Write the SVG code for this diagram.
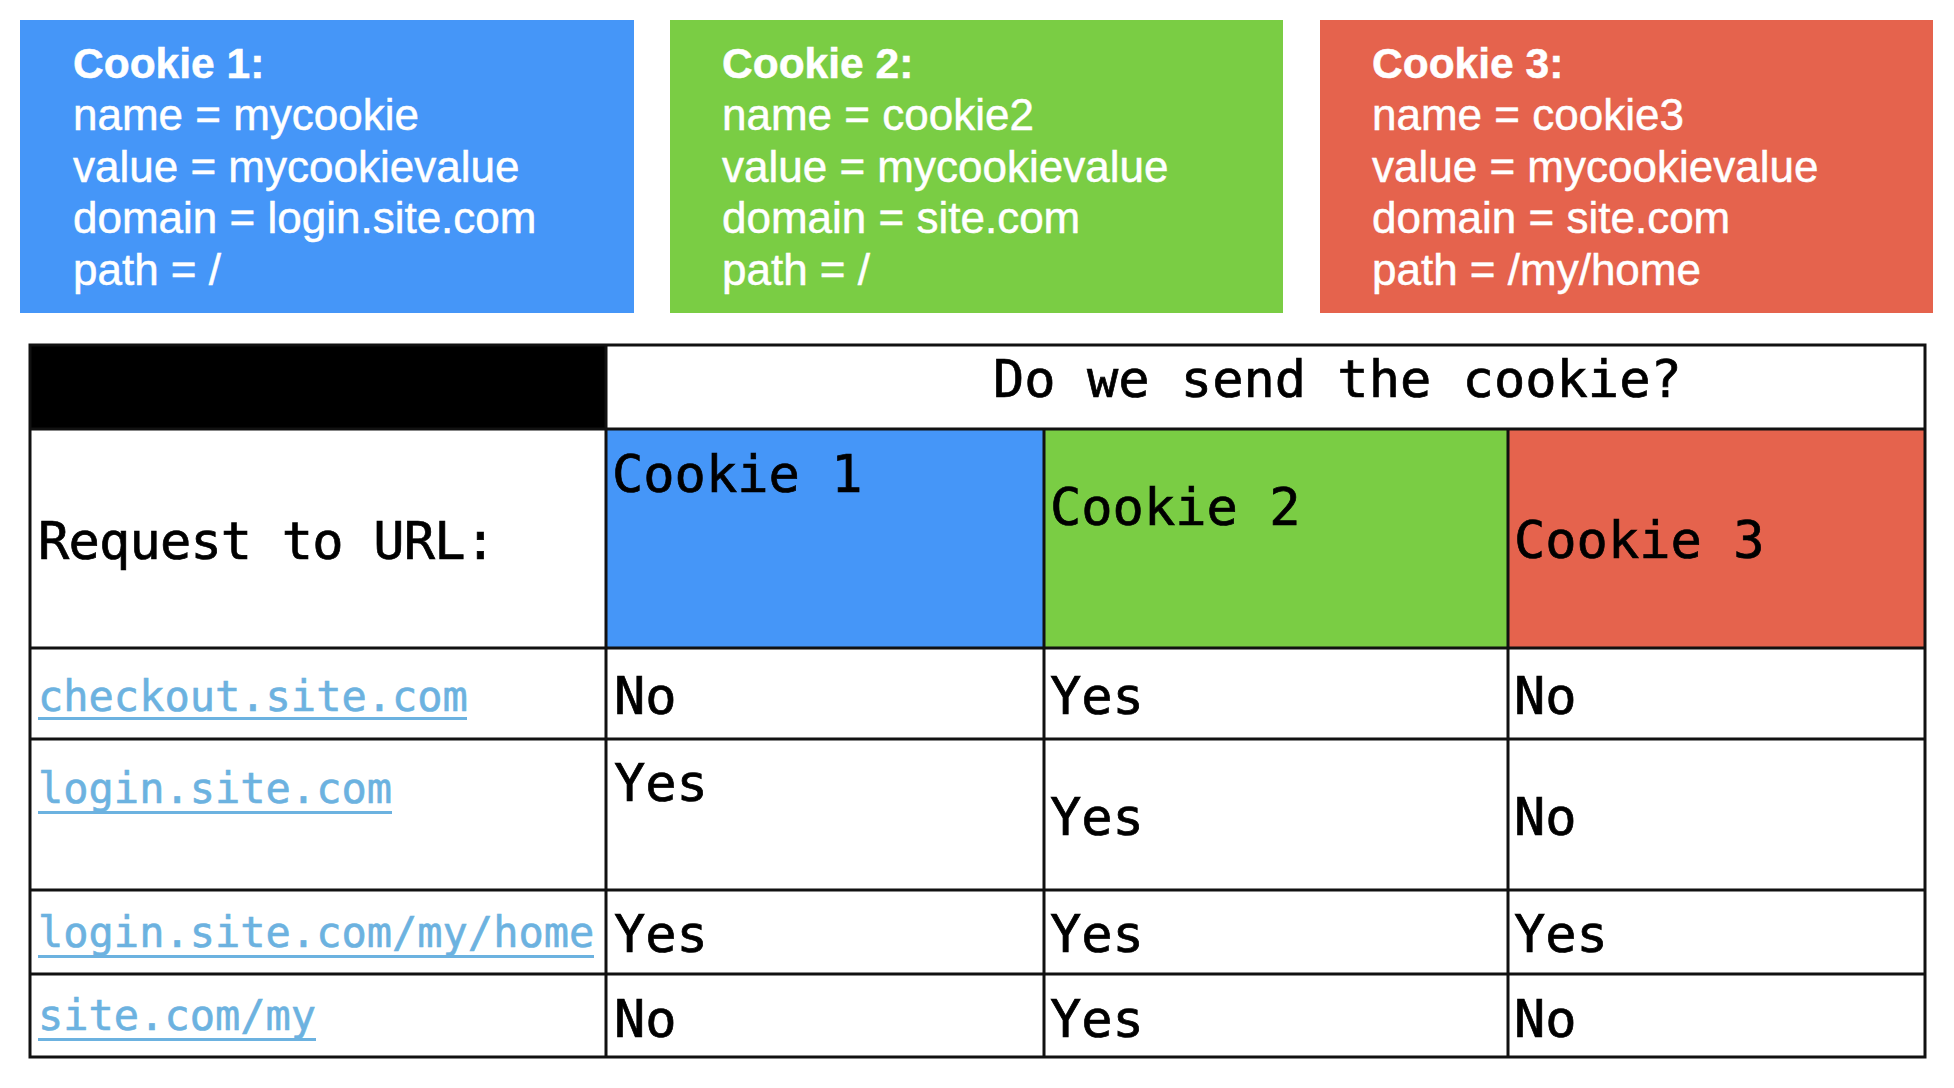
<svg xmlns="http://www.w3.org/2000/svg" width="1954" height="1088" viewBox="0 0 1954 1088">
<style>
.card { font-family: "Liberation Sans", Arial, sans-serif; font-size: 44px; fill: #ffffff; stroke: #ffffff; stroke-width: 0.5px; }
.card .t { font-weight: bold; font-size: 42.5px; }
.mono { font-family: "DejaVu Sans Mono", "Liberation Mono", monospace; font-size: 52px; fill: #000000; stroke: #000000; stroke-width: 0.7px; }
.url { font-family: "DejaVu Sans Mono", "Liberation Mono", monospace; font-size: 42px; fill: #6cb2e0; stroke: #6cb2e0; stroke-width: 0.6px; }
.ul { stroke: #6cb2e0; stroke-width: 3; }
.grid { stroke: #111111; stroke-width: 3; fill: none; }
.blue { fill: #4596f8; }
.green { fill: #7acd44; }
.red { fill: #e5634d; }
</style>
<rect width="1954" height="1088" fill="#ffffff"/>

<g id="cookie1-card">
  <rect class="blue" x="20" y="20" width="614" height="293"/>
  <text class="card">
    <tspan class="t" x="73" y="78">Cookie 1:</tspan>
    <tspan x="73" y="130">name = mycookie</tspan>
    <tspan x="73" y="182">value = mycookievalue</tspan>
    <tspan x="73" y="233">domain = login.site.com</tspan>
    <tspan x="73" y="285">path = /</tspan>
  </text>
</g>
<g id="cookie2-card">
  <rect class="green" x="670" y="20" width="613" height="293"/>
  <text class="card">
    <tspan class="t" x="722" y="78">Cookie 2:</tspan>
    <tspan x="722" y="130">name = cookie2</tspan>
    <tspan x="722" y="182">value = mycookievalue</tspan>
    <tspan x="722" y="233">domain = site.com</tspan>
    <tspan x="722" y="285">path = /</tspan>
  </text>
</g>
<g id="cookie3-card">
  <rect class="red" x="1320" y="20" width="613" height="293"/>
  <text class="card">
    <tspan class="t" x="1372" y="78">Cookie 3:</tspan>
    <tspan x="1372" y="130">name = cookie3</tspan>
    <tspan x="1372" y="182">value = mycookievalue</tspan>
    <tspan x="1372" y="233">domain = site.com</tspan>
    <tspan x="1372" y="285">path = /my/home</tspan>
  </text>
</g>

<g id="table">
  <rect x="30" y="345" width="576" height="84" fill="#000000"/>
  <rect class="blue" x="606" y="429" width="438" height="219"/>
  <rect class="green" x="1044" y="429" width="464" height="219"/>
  <rect class="red" x="1508" y="429" width="417" height="219"/>
  <g class="grid">
    <rect x="30" y="345" width="1895" height="712"/>
    <line x1="30" y1="429" x2="1925" y2="429"/>
    <line x1="30" y1="648" x2="1925" y2="648"/>
    <line x1="30" y1="739" x2="1925" y2="739"/>
    <line x1="30" y1="890" x2="1925" y2="890"/>
    <line x1="30" y1="974" x2="1925" y2="974"/>
    <line x1="606" y1="345" x2="606" y2="1057"/>
    <line x1="1044" y1="429" x2="1044" y2="1057"/>
    <line x1="1508" y1="429" x2="1508" y2="1057"/>
  </g>
  <text class="mono" x="993" y="397">Do we send the cookie?</text>
  <text class="mono" x="38" y="559" textLength="458" lengthAdjust="spacing">Request to URL:</text>
  <text class="mono" x="612" y="492">Cookie 1</text>
  <text class="mono" x="1050" y="525">Cookie 2</text>
  <text class="mono" x="1514" y="558">Cookie 3</text>

  <text class="url" x="38" y="711">checkout.site.com</text>
  <text class="url" x="38" y="803">login.site.com</text>
  <text class="url" x="38" y="947">login.site.com/my/home</text>
  <text class="url" x="38" y="1030">site.com/my</text>
  <g class="ul">
    <line x1="38" y1="718.5" x2="467" y2="718.5"/>
    <line x1="38" y1="812.5" x2="392" y2="812.5"/>
    <line x1="38" y1="956.5" x2="594" y2="956.5"/>
    <line x1="38" y1="1039.5" x2="316" y2="1039.5"/>
  </g>

  <text class="mono" x="614" y="714">No</text>
  <text class="mono" x="1050" y="714">Yes</text>
  <text class="mono" x="1514" y="714">No</text>

  <text class="mono" x="614" y="801">Yes</text>
  <text class="mono" x="1050" y="835">Yes</text>
  <text class="mono" x="1514" y="835">No</text>

  <text class="mono" x="614" y="952">Yes</text>
  <text class="mono" x="1050" y="952">Yes</text>
  <text class="mono" x="1514" y="952">Yes</text>

  <text class="mono" x="614" y="1037">No</text>
  <text class="mono" x="1050" y="1037">Yes</text>
  <text class="mono" x="1514" y="1037">No</text>
</g>
</svg>
